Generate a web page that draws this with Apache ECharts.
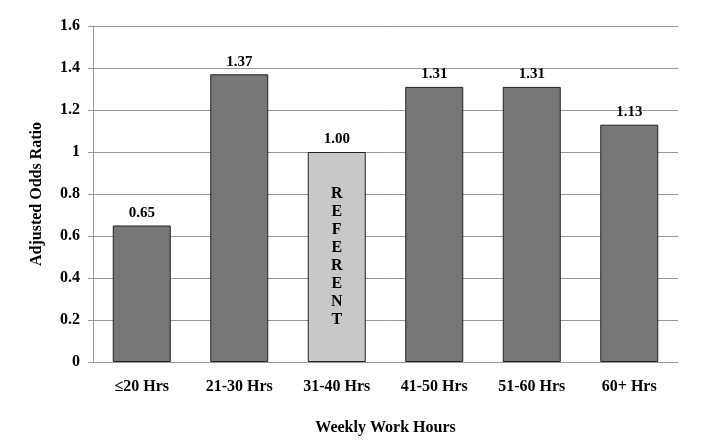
<!DOCTYPE html>
<html>
<head>
<meta charset="utf-8">
<script src="https://cdn.jsdelivr.net/npm/echarts@6/dist/echarts.min.js"></script>
<style>html,body{margin:0;padding:0;background:#fff;}#c{width:715px;height:448px;}</style>
</head>
<body>
<div id="c"></div>
<script>
const categories = ['≤20 Hrs', '21-30 Hrs', '31-40 Hrs', '41-50 Hrs', '51-60 Hrs', '60+ Hrs'];
const oddsRatios = [0.65, 1.37, 1.00, 1.31, 1.31, 1.13];
const referentIndex = 2;
const referentText = 'REFERENT';
const yTicks = { min: 0, max: 1.6, interval: 0.2 };

const font = '"Liberation Serif", "Times New Roman", serif';
const chart = echarts.init(document.getElementById('c'));
const mainData = oddsRatios.map((v, i) => ({
  value: v,
  itemStyle: { color: i === referentIndex ? '#c8c8c8' : '#777777' }
}));
const refData = oddsRatios.map((v, i) => i === referentIndex ? v : null);

chart.setOption({
  animation: false,
  backgroundColor: '#ffffff',
  textStyle: { fontFamily: font },
  grid: { left: 93, right: 37, top: 26, bottom: 86 },
  xAxis: {
    type: 'category',
    data: categories,
    name: 'Weekly Work Hours',
    nameLocation: 'middle',
    nameGap: 58,
    nameTextStyle: { fontFamily: font, fontWeight: 'bold', fontSize: 16, color: '#000' },
    axisLine: { lineStyle: { color: '#999999', width: 1 } },
    axisTick: { show: false },
    axisLabel: { fontFamily: font, fontWeight: 'bold', fontSize: 16, color: '#000', margin: 17 }
  },
  yAxis: {
    type: 'value',
    min: yTicks.min, max: yTicks.max, interval: yTicks.interval,
    name: 'Adjusted Odds Ratio',
    nameLocation: 'middle',
    nameGap: 48,
    nameTextStyle: { fontFamily: font, fontWeight: 'bold', fontSize: 16, color: '#000' },
    axisLine: { show: true, lineStyle: { color: '#999999', width: 1 } },
    axisTick: { show: true, length: 5, lineStyle: { color: '#999999' } },
    splitLine: { lineStyle: { color: '#999999', width: 1 } },
    axisLabel: {
      fontFamily: font, fontWeight: 'bold', fontSize: 16, color: '#000', margin: 13,
      formatter: v => (Math.round(v * 10) / 10).toString()
    }
  },
  series: [
    {
      type: 'bar',
      data: mainData,
      barWidth: 58,
      barGap: '-100%',
      itemStyle: { borderColor: '#222222', borderWidth: 1 },
      label: {
        show: true, position: 'top', distance: 5,
        fontFamily: font, fontWeight: 'bold', fontSize: 15, color: '#000',
        formatter: p => p.value.toFixed(2)
      }
    },
    {
      type: 'bar',
      data: refData,
      barWidth: 58,
      barGap: '-100%',
      itemStyle: { color: 'rgba(0,0,0,0)' },
      silent: true,
      label: {
        show: true, position: 'inside',
        fontFamily: font, fontWeight: 'bold', fontSize: 16, color: '#000',
        lineHeight: 18,
        formatter: () => referentText.split('').join('\n')
      }
    }
  ]
});
</script>
</body>
</html>
